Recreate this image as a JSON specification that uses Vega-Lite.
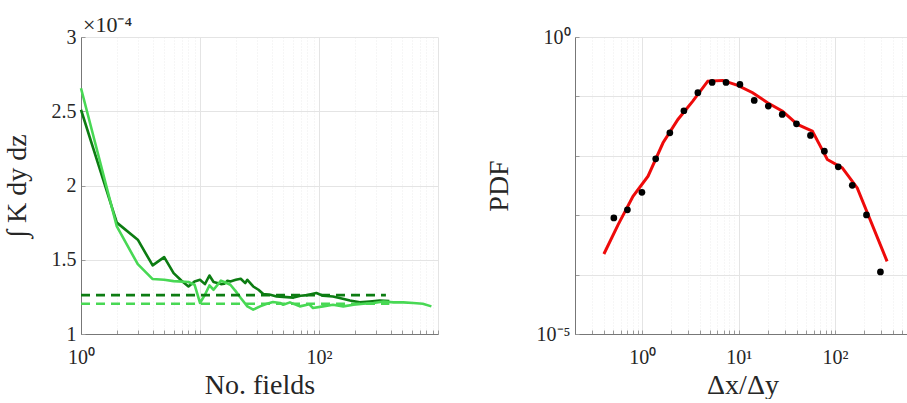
{
  "$schema": "https://vega.github.io/schema/vega-lite/v6.json",
  "padding": {"left": 3, "top": 14, "right": 0, "bottom": 0},
  "spacing": 137,
  "bounds": "flush",
  "config": {
    "font": "Liberation Serif",
    "view": {"stroke": null},
    "axis": {
      "labelFont": "Liberation Serif",
      "titleFont": "Liberation Serif",
      "labelFontSize": 20,
      "titleFontSize": 28,
      "titleFontWeight": "normal",
      "labelColor": "#262626",
      "titleColor": "#262626",
      "domainColor": "#777777",
      "domainWidth": 1,
      "tickColor": "#999999",
      "tickSize": -4,
      "labelFlush": false,
      "labelOverlap": false,
      "grid": true
    }
  },
  "datasets": {
    "conv": [
      {"series": "A", "n": 1, "value": 2.51},
      {"series": "A", "n": 2, "value": 1.75},
      {"series": "A", "n": 3, "value": 1.635},
      {"series": "A", "n": 4, "value": 1.462},
      {"series": "A", "n": 5, "value": 1.518},
      {"series": "A", "n": 6, "value": 1.41},
      {"series": "A", "n": 7, "value": 1.359},
      {"series": "A", "n": 8, "value": 1.32},
      {"series": "A", "n": 9, "value": 1.354},
      {"series": "A", "n": 10, "value": 1.365},
      {"series": "A", "n": 11, "value": 1.336},
      {"series": "A", "n": 12, "value": 1.394},
      {"series": "A", "n": 13, "value": 1.35},
      {"series": "A", "n": 15, "value": 1.336},
      {"series": "A", "n": 16, "value": 1.338},
      {"series": "A", "n": 17, "value": 1.359},
      {"series": "A", "n": 18, "value": 1.354},
      {"series": "A", "n": 20, "value": 1.365},
      {"series": "A", "n": 22, "value": 1.372},
      {"series": "A", "n": 24, "value": 1.343},
      {"series": "A", "n": 25, "value": 1.365},
      {"series": "A", "n": 28, "value": 1.32},
      {"series": "A", "n": 31, "value": 1.298},
      {"series": "A", "n": 34, "value": 1.269},
      {"series": "A", "n": 39, "value": 1.264},
      {"series": "A", "n": 44, "value": 1.253},
      {"series": "A", "n": 50, "value": 1.25},
      {"series": "A", "n": 61, "value": 1.245},
      {"series": "A", "n": 70, "value": 1.258},
      {"series": "A", "n": 80, "value": 1.262},
      {"series": "A", "n": 95, "value": 1.276},
      {"series": "A", "n": 108, "value": 1.258},
      {"series": "A", "n": 131, "value": 1.253},
      {"series": "A", "n": 149, "value": 1.242},
      {"series": "A", "n": 182, "value": 1.226},
      {"series": "A", "n": 220, "value": 1.213},
      {"series": "A", "n": 267, "value": 1.219},
      {"series": "A", "n": 324, "value": 1.226},
      {"series": "A", "n": 390, "value": 1.222},
      {"series": "B", "n": 1, "value": 2.655},
      {"series": "B", "n": 2, "value": 1.724},
      {"series": "B", "n": 3, "value": 1.47},
      {"series": "B", "n": 4, "value": 1.37},
      {"series": "B", "n": 5, "value": 1.365},
      {"series": "B", "n": 6, "value": 1.356},
      {"series": "B", "n": 8, "value": 1.35},
      {"series": "B", "n": 9, "value": 1.332},
      {"series": "B", "n": 10, "value": 1.209},
      {"series": "B", "n": 11, "value": 1.264},
      {"series": "B", "n": 12, "value": 1.327},
      {"series": "B", "n": 13, "value": 1.298},
      {"series": "B", "n": 15, "value": 1.359},
      {"series": "B", "n": 16, "value": 1.35},
      {"series": "B", "n": 18, "value": 1.332},
      {"series": "B", "n": 20, "value": 1.287},
      {"series": "B", "n": 22, "value": 1.242},
      {"series": "B", "n": 25, "value": 1.186},
      {"series": "B", "n": 28, "value": 1.164},
      {"series": "B", "n": 32, "value": 1.186},
      {"series": "B", "n": 36, "value": 1.202},
      {"series": "B", "n": 41, "value": 1.215},
      {"series": "B", "n": 47, "value": 1.209},
      {"series": "B", "n": 50, "value": 1.197},
      {"series": "B", "n": 57, "value": 1.213},
      {"series": "B", "n": 69, "value": 1.186},
      {"series": "B", "n": 83, "value": 1.2},
      {"series": "B", "n": 89, "value": 1.175},
      {"series": "B", "n": 108, "value": 1.186},
      {"series": "B", "n": 131, "value": 1.197},
      {"series": "B", "n": 160, "value": 1.186},
      {"series": "B", "n": 195, "value": 1.197},
      {"series": "B", "n": 236, "value": 1.204},
      {"series": "B", "n": 287, "value": 1.209},
      {"series": "B", "n": 349, "value": 1.219},
      {"series": "B", "n": 424, "value": 1.213},
      {"series": "B", "n": 510, "value": 1.213},
      {"series": "B", "n": 620, "value": 1.209},
      {"series": "B", "n": 745, "value": 1.204},
      {"series": "B", "n": 880, "value": 1.186}
    ],
    "means": [
      {"series": "A", "n": 1, "value": 1.262},
      {"series": "A", "n": 365, "value": 1.262},
      {"series": "B", "n": 1, "value": 1.204},
      {"series": "B", "n": 390, "value": 1.204}
    ],
    "pdfdots": [
      {"ratio": 0.506, "pdf": 0.0009},
      {"ratio": 0.70, "pdf": 0.00123},
      {"ratio": 0.99, "pdf": 0.00243},
      {"ratio": 1.376, "pdf": 0.0089},
      {"ratio": 1.93, "pdf": 0.0244},
      {"ratio": 2.70, "pdf": 0.0573},
      {"ratio": 3.77, "pdf": 0.1153},
      {"ratio": 5.30, "pdf": 0.172},
      {"ratio": 7.39, "pdf": 0.172},
      {"ratio": 10.3, "pdf": 0.159},
      {"ratio": 14.5, "pdf": 0.0857},
      {"ratio": 20.3, "pdf": 0.0687},
      {"ratio": 28.3, "pdf": 0.0497},
      {"ratio": 39.8, "pdf": 0.0346},
      {"ratio": 55.6, "pdf": 0.022},
      {"ratio": 77.5, "pdf": 0.01197},
      {"ratio": 108, "pdf": 0.00652},
      {"ratio": 151, "pdf": 0.00319},
      {"ratio": 212, "pdf": 0.00101},
      {"ratio": 296, "pdf": 0.0001107}
    ],
    "pdffit": [
      {"ratio": 0.399, "pdf": 0.000222},
      {"ratio": 0.561, "pdf": 0.000693},
      {"ratio": 0.80, "pdf": 0.00208},
      {"ratio": 1.146, "pdf": 0.00453},
      {"ratio": 1.64, "pdf": 0.01656},
      {"ratio": 2.34, "pdf": 0.0409},
      {"ratio": 3.34, "pdf": 0.0834},
      {"ratio": 4.78, "pdf": 0.181},
      {"ratio": 6.83, "pdf": 0.186},
      {"ratio": 9.77, "pdf": 0.1535},
      {"ratio": 13.96, "pdf": 0.1153},
      {"ratio": 19.95, "pdf": 0.0783},
      {"ratio": 28.5, "pdf": 0.0565},
      {"ratio": 40.7, "pdf": 0.0337},
      {"ratio": 58.2, "pdf": 0.026},
      {"ratio": 83.2, "pdf": 0.00867},
      {"ratio": 119, "pdf": 0.00627},
      {"ratio": 170, "pdf": 0.00288},
      {"ratio": 347, "pdf": 0.000167}
    ]
  },
  "hconcat": [
    {
      "width": 357,
      "height": 297,
      "title": {"text": "×10⁻⁴", "anchor": "start", "frame": "group", "fontSize": 22, "fontWeight": "normal", "font": "Liberation Serif", "baseline": "alphabetic", "offset": -27, "dx": 2, "color": "#262626"},
      "encoding": {
        "x": {
          "field": "n", "type": "quantitative",
          "scale": {"type": "log", "domain": [1, 1000], "nice": false},
          "axis": {
            "title": "No.  fields",
            "values": [1,2,3,4,5,6,7,8,9,10,20,30,40,50,60,70,80,90,100,200,300,400,500,600,700,800,900,1000],
            "labelExpr": "datum.value == 1 ? '10⁰' : (datum.value == 100 ? '10²' : '')",
            "labelPadding": 17,
            "titlePadding": 4,
            "gridColor": {"condition": {"test": "datum.value == 1 || datum.value == 10 || datum.value == 100 || datum.value == 1000", "value": "#e4e4e4"}, "value": "#ececec"},
            "gridDash": {"condition": {"test": "datum.value == 1 || datum.value == 10 || datum.value == 100 || datum.value == 1000", "value": []}, "value": [1, 2]}
          }
        },
        "y": {
          "field": "value", "type": "quantitative",
          "scale": {"domain": [1, 3], "nice": false, "zero": false},
          "axis": {
            "title": "∫ K dy dz",
            "values": [1, 1.5, 2, 2.5, 3],
            "format": "~g",
            "labelPadding": 9,
            "titlePadding": 20,
            "gridColor": "#e4e4e4"
          }
        },
        "color": {
          "field": "series", "type": "nominal",
          "scale": {"domain": ["A", "B"], "range": ["#0c7c12", "#48d854"]},
          "legend": null
        }
      },
      "layer": [
        {"data": {"name": "conv"}, "mark": {"type": "line", "strokeWidth": 2.6, "strokeJoin": "round"}},
        {"data": {"name": "means"}, "mark": {"type": "line", "strokeWidth": 2.6, "strokeDash": [9, 6]}}
      ]
    },
    {
      "width": 335,
      "height": 297,
      "encoding": {
        "x": {
          "field": "ratio", "type": "quantitative",
          "scale": {"type": "log", "domain": [0.2, 600], "nice": false},
          "axis": {
            "title": "Δx/Δy",
            "values": [0.2,0.3,0.4,0.5,0.6,0.7,0.8,0.9,1,2,3,4,5,6,7,8,9,10,20,30,40,50,60,70,80,90,100,200,300,400,500,600],
            "labelExpr": "datum.value == 1 ? '10⁰' : (datum.value == 10 ? '10¹' : (datum.value == 100 ? '10²' : ''))",
            "labelPadding": 17,
            "titlePadding": 4,
            "gridColor": {"condition": {"test": "datum.value == 1 || datum.value == 10 || datum.value == 100", "value": "#e4e4e4"}, "value": "#ececec"},
            "gridDash": {"condition": {"test": "datum.value == 1 || datum.value == 10 || datum.value == 100", "value": []}, "value": [1, 2]}
          }
        },
        "y": {
          "field": "pdf", "type": "quantitative",
          "scale": {"type": "log", "domain": [0.00001, 1], "nice": false},
          "axis": {
            "title": "PDF",
            "values": [0.00001, 0.0001, 0.001, 0.01, 0.1, 1],
            "labelExpr": "datum.value > 0.5 ? '10⁰' : (datum.value < 0.00002 ? '10⁻⁵' : '')",
            "labelPadding": 9,
            "titlePadding": 23,
            "gridColor": "#e4e4e4"
          }
        }
      },
      "layer": [
        {"data": {"name": "pdffit"}, "mark": {"type": "line", "color": "#ee0a0a", "strokeWidth": 3}},
        {"data": {"name": "pdfdots"}, "mark": {"type": "circle", "color": "#000000", "size": 45, "opacity": 1}}
      ]
    }
  ]
}
